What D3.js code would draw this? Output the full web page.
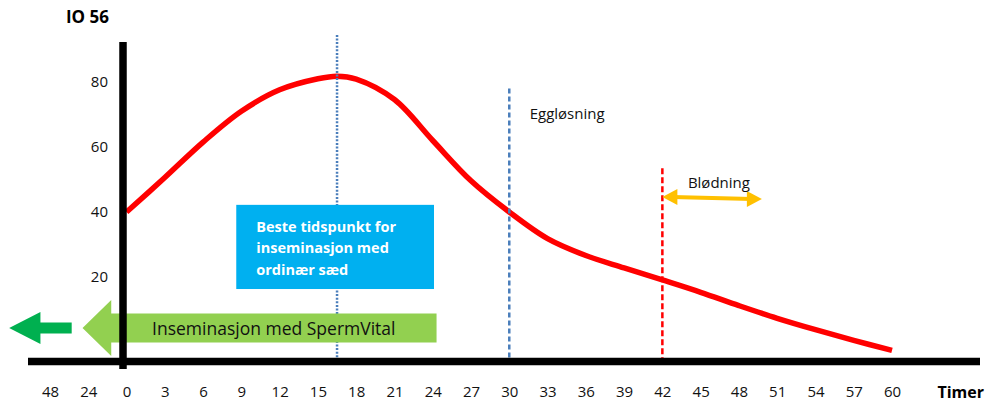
<!DOCTYPE html>
<meta charset="utf-8">
<script src="https://d3js.org/d3.v7.min.js"></script>
<style>
  body { margin: 0; background: #fff; }
  text { font-family: "Open Sans", sans-serif; }
</style>
<div id="chart"></div>
<script>

// curve: IO 56 level over the hours
var hours = [0, 3, 6, 9, 12, 15, 16.5, 18, 21, 24, 27, 30, 33, 36, 39, 42, 45, 48, 51, 54, 57, 60];
var io56  = [40, 50.6, 61.5, 71.0, 77.6, 81.0, 81.8, 80.9, 74.6, 62.0, 49.6, 40, 31.8, 26.6, 22.8, 19.1, 15.3, 11.2, 7.3, 3.8, 0.5, -2.6];

// x tick labels (the two on the left are hours before 0)
var xTickHours  = [-6, -3, 0, 3, 6, 9, 12, 15, 18, 21, 24, 27, 30, 33, 36, 39, 42, 45, 48, 51, 54, 57, 60];
var xTickLabels = ["48", "24", "0", "3", "6", "9", "12", "15", "18", "21", "24", "27", "30", "33", "36", "39", "42", "45", "48", "51", "54", "57", "60"];
var yTicks = [20, 40, 60, 80];

// vertical markers: peak, ovulation, bleeding
var markerHours = [16.5, 30, 42];
var markerTops  = [94.5, 78, 53.5];

var boxLines = ["Beste tidspunkt for", "inseminasjon med", "ordinær sæd"];

var width = 992, height = 402;

var svg = d3.select("#chart")
  .append("svg")
    .attr("width", width)
    .attr("height", height);

var x = d3.scaleLinear().domain([-6, 60]).range([50, 892]);
var y = d3.scaleLinear().domain([-6, 92]).range([361.5, 43]);

// vertical marker lines
var markerStyle = [
  {color: "#4a7ebb", dash: "2,1.6", w: 2.5},
  {color: "#4a7ebb", dash: "5,3", w: 2.5},
  {color: "#ff0000", dash: "6,3", w: 2.5}
];

// red curve
var line = d3.line()
  .x(function(d){ return x(d[0]) })
  .y(function(d){ return y(d[1]) })
  .curve(d3.curveCatmullRom.alpha(0.5));

svg.append("path")
  .datum(d3.zip(hours, io56))
  .attr("d", line)
  .style("fill", "none")
  .attr("stroke", "#ff0000")
  .attr("stroke-width", 5.5);

svg.selectAll("markers")
  .data(markerHours)
  .enter()
  .append("line")
    .attr("x1", function(d){ return x(d) })
    .attr("x2", function(d){ return x(d) })
    .attr("y1", function(d, i){ return y(markerTops[i]) })
    .attr("y2", y(-6))
    .attr("stroke", function(d, i){ return markerStyle[i].color })
    .attr("stroke-width", function(d, i){ return markerStyle[i].w })
    .attr("stroke-dasharray", function(d, i){ return markerStyle[i].dash });

// blue box
var bx0 = x(8.6), bx1 = x(24.1), by0 = y(42.2), by1 = y(16.3);
svg.append("rect")
  .attr("x", bx0).attr("y", by0)
  .attr("width", bx1 - bx0).attr("height", by1 - by0)
  .style("fill", "#00b0f0");

svg.selectAll("boxtext")
  .data(boxLines)
  .enter()
  .append("text")
    .attr("x", bx0 + 20)
    .attr("y", function(d, i){ return by0 + 27 + i * 21.5 })
    .text(function(d){ return d })
    .style("fill", "#fff")
    .style("font-weight", "bold")
    .style("font-size", "14.5px");

// left-pointing block arrow
function leftArrow(tip, base, end, cy, bodyHalf, headHalf) {
  return "M" + tip + "," + cy +
    "L" + base + "," + (cy - headHalf) +
    "L" + base + "," + (cy - bodyHalf) +
    "L" + end + "," + (cy - bodyHalf) +
    "L" + end + "," + (cy + bodyHalf) +
    "L" + base + "," + (cy + bodyHalf) +
    "L" + base + "," + (cy + headHalf) + "Z";
}

var arrowY = y(4.3);
svg.append("path")
  .attr("d", leftArrow(x(-3.45), x(-1.2), x(24.3), arrowY, 14.5, 28))
  .style("fill", "#92d050");

svg.append("path")
  .attr("d", leftArrow(x(-9.2), x(-6.75), x(-4.3), arrowY, 5.5, 16))
  .style("fill", "#00b050");

svg.append("text")
  .attr("x", x(2))
  .attr("y", arrowY + 6.5)
  .text("Inseminasjon med SpermVital")
  .style("font-size", "17.5px")
  .style("fill", "#111");

// orange double arrow for bleeding
var ox0 = x(42), ox1 = x(49.8), oy0 = y(44.6), oy1 = y(44.0);
svg.append("line")
  .attr("x1", ox0 + 10).attr("y1", oy0)
  .attr("x2", ox1 - 10).attr("y2", oy1)
  .attr("stroke", "#ffc000")
  .attr("stroke-width", 4);
svg.append("path")
  .attr("d", "M" + ox0 + "," + oy0 + "L" + (ox0 + 15) + "," + (oy0 - 8) + "L" + (ox0 + 15) + "," + (oy0 + 8) + "Z")
  .style("fill", "#ffc000");
svg.append("path")
  .attr("d", "M" + ox1 + "," + oy1 + "L" + (ox1 - 15) + "," + (oy1 - 8) + "L" + (ox1 - 15) + "," + (oy1 + 8) + "Z")
  .style("fill", "#ffc000");

svg.append("text")
  .attr("x", x(44))
  .attr("y", y(47.5))
  .text("Blødning")
  .style("font-size", "15px")
  .style("fill", "#111");

svg.append("text")
  .attr("x", x(31.6))
  .attr("y", y(68.5))
  .text("Eggløsning")
  .style("font-size", "15px")
  .style("fill", "#111");

// axes
var yAxis = svg.append("g")
  .attr("transform", "translate(123,0)")
  .call(d3.axisLeft(y).tickValues(yTicks).tickSize(0).tickPadding(15));
yAxis.select(".domain").remove();
yAxis.selectAll("text").style("font-size", "15px").style("font-family", "'Open Sans', sans-serif").style("fill", "#111");

var xAxis = svg.append("g")
  .attr("transform", "translate(0," + y(-6) + ")")
  .call(d3.axisBottom(x).tickValues(xTickHours).tickSize(0).tickPadding(25)
    .tickFormat(function(d, i){ return xTickLabels[i] }));
xAxis.select(".domain").remove();
xAxis.selectAll("text").style("font-size", "15px").style("font-family", "'Open Sans', sans-serif").style("fill", "#111");

svg.append("line")
  .attr("x1", 28).attr("x2", 980)
  .attr("y1", y(-6)).attr("y2", y(-6))
  .attr("stroke", "#000")
  .attr("stroke-width", 7.5);

svg.append("line")
  .attr("x1", 123).attr("x2", 123)
  .attr("y1", 42).attr("y2", 369)
  .attr("stroke", "#000")
  .attr("stroke-width", 7.5);

svg.append("text")
  .attr("x", 109).attr("y", 23)
  .attr("text-anchor", "end")
  .text("IO 56")
  .style("font-weight", "bold")
  .style("font-size", "17px");

svg.append("text")
  .attr("x", 984).attr("y", 398)
  .attr("text-anchor", "end")
  .text("Timer")
  .style("font-weight", "bold")
  .style("font-size", "16px");

</script>
